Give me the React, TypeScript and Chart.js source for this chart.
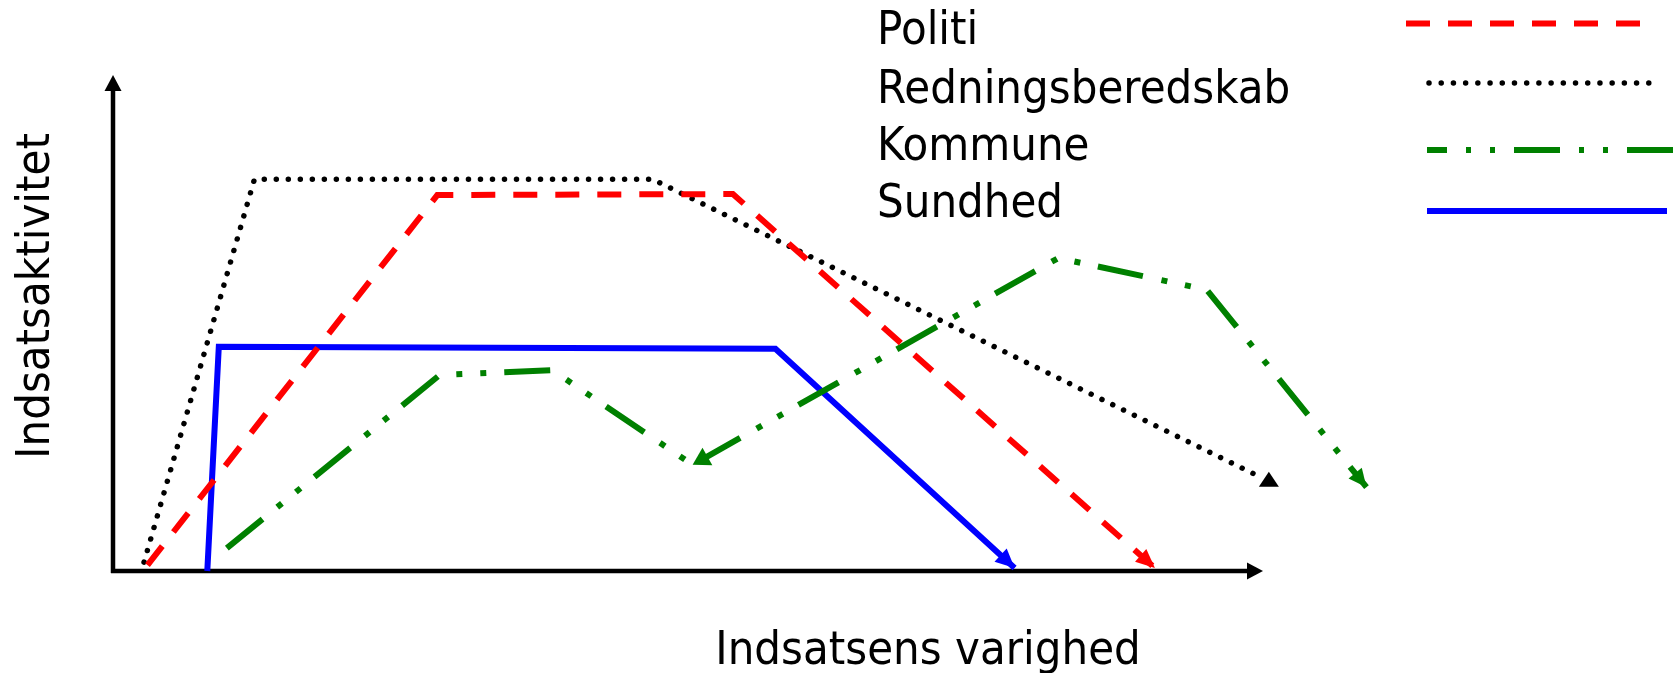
import React, { useEffect, useRef } from "react";
import { Chart, registerables } from "chart.js";

Chart.register(...registerables);

// ---- data (x: duration units 0..100 along axis, y: activity 0..100) ----
const seriesNames = ["Politi", "Redningsberedskab", "Kommune", "Sundhed"];
const seriesColors = ["#FF0000", "#000000", "#008000", "#0000FF"];

const politiX = [3.0, 28.2, 53.9, 90.6];
const politiY = [1.2, 75.8, 76.0, 0.6];

const redningX = [2.7, 12.3, 46.9, 99.9];
const redningY = [1.8, 79.0, 79.0, 18.8];

const kommuneX = [9.9, 28.4, 38.2, 50.4, 82.2, 95.1, 109.0];
const kommuneY = [4.6, 39.5, 40.5, 21.4, 63.1, 56.7, 16.9];

const sundhedX = [8.2, 9.2, 57.6, 78.4];
const sundhedY = [0, 45.2, 44.8, 0.6];

const xAxisTitle = "Indsatsens varighed";
const yAxisTitle = "Indsatsaktivitet";

const toPoints = (xs: number[], ys: number[]) => xs.map((x, i) => ({ x, y: ys[i] }));

const FONT = '46px "DejaVu Sans"';
const SQUEEZE = 0.915;

function drawText(ctx: CanvasRenderingContext2D, text: string, x: number, y: number, align: CanvasTextAlign, rotate = 0) {
  ctx.save();
  ctx.translate(x, y);
  if (rotate) ctx.rotate(rotate);
  ctx.scale(SQUEEZE, 1);
  ctx.font = FONT;
  ctx.fillStyle = "#000";
  ctx.textAlign = align;
  ctx.textBaseline = "alphabetic";
  ctx.fillText(text, 0, 0);
  ctx.restore();
}

function triangle(ctx: CanvasRenderingContext2D, tipX: number, tipY: number, fromX: number, fromY: number, len: number, half: number, color: string) {
  const dx = tipX - fromX;
  const dy = tipY - fromY;
  const d = Math.hypot(dx, dy) || 1;
  const ux = dx / d;
  const uy = dy / d;
  const bx = tipX - ux * len;
  const by = tipY - uy * len;
  ctx.save();
  ctx.fillStyle = color;
  ctx.beginPath();
  ctx.moveTo(tipX, tipY);
  ctx.lineTo(bx - uy * half, by + ux * half);
  ctx.lineTo(bx + uy * half, by - ux * half);
  ctx.closePath();
  ctx.fill();
  ctx.restore();
}

const axesPlugin = {
  id: "axesArrows",
  beforeDatasetsDraw(chart: any) {
    const ctx: CanvasRenderingContext2D = chart.ctx;
    const xs = chart.scales.x;
    const ys = chart.scales.y;
    const ox = xs.getPixelForValue(0);
    const oy = ys.getPixelForValue(0);
    const xt = xs.getPixelForValue(100);
    const yt = ys.getPixelForValue(100);
    ctx.save();
    ctx.strokeStyle = "#000";
    ctx.lineWidth = 4.5;
    ctx.lineCap = "butt";
    ctx.beginPath();
    ctx.moveTo(ox - 2, oy);
    ctx.lineTo(xt - 10, oy);
    ctx.moveTo(ox, oy + 2);
    ctx.lineTo(ox, yt + 10);
    ctx.stroke();
    ctx.restore();
    triangle(ctx, xt, oy, ox, oy, 16, 8.5, "#000");
    triangle(ctx, ox, yt, ox, oy, 16, 8.5, "#000");
  },
};

const arrowsPlugin = {
  id: "lineArrows",
  afterDatasetsDraw(chart: any) {
    const ctx: CanvasRenderingContext2D = chart.ctx;
    const pt = (ds: number, i: number) => chart.getDatasetMeta(ds).data[i];
    // Politi end
    {
      const n = politiX.length;
      const a = pt(0, n - 1), b = pt(0, n - 2);
      triangle(ctx, a.x, a.y, b.x, b.y, 19, 8.5, seriesColors[0]);
    }
    // Redningsberedskab end: upright triangle
    {
      const n = redningX.length;
      const a = pt(1, n - 1);
      ctx.save();
      ctx.fillStyle = seriesColors[1];
      ctx.beginPath();
      ctx.moveTo(a.x + 7, a.y - 6);
      ctx.lineTo(a.x + 17, a.y + 9);
      ctx.lineTo(a.x - 3, a.y + 9);
      ctx.closePath();
      ctx.fill();
      ctx.restore();
    }
    // Kommune: mid arrow and end arrow
    {
      const a = pt(2, 3), b = pt(2, 4);
      triangle(ctx, a.x, a.y, b.x, b.y, 17, 10, seriesColors[2]);
      const n = kommuneX.length;
      const c = pt(2, n - 1), d = pt(2, n - 2);
      triangle(ctx, c.x, c.y, d.x, d.y, 18, 8.5, seriesColors[2]);
    }
    // Sundhed end
    {
      const n = sundhedX.length;
      const a = pt(3, n - 1), b = pt(3, n - 2);
      triangle(ctx, a.x, a.y, b.x, b.y, 19, 9, seriesColors[3]);
    }
  },
};

const legendPlugin = {
  id: "customLegend",
  afterDraw(chart: any) {
    const ctx: CanvasRenderingContext2D = chart.ctx;
    const labelX = 877;
    const baselines = [44, 103, 160, 217];
    seriesNames.forEach((name, i) => drawText(ctx, name, labelX, baselines[i], "left"));

    const samples = [
      { x0: 1406, x1: 1641, y: 23.5, w: 6, dash: [24, 18], cap: "butt", off: 0 },
      { x0: 1429, x1: 1651, y: 83, w: 5.5, dash: [0.01, 12.2], cap: "round", off: 0 },
      { x0: 1427, x1: 1676, y: 150, w: 6, dash: [46, 19, 5, 19, 5, 19], cap: "butt", off: 26 },
      { x0: 1427, x1: 1667, y: 211, w: 6, dash: [], cap: "butt", off: 0 },
    ];
    samples.forEach((s, i) => {
      ctx.save();
      ctx.strokeStyle = seriesColors[i];
      ctx.lineWidth = s.w;
      ctx.lineCap = s.cap as CanvasLineCap;
      ctx.setLineDash(s.dash);
      ctx.lineDashOffset = s.off;
      ctx.beginPath();
      ctx.moveTo(s.x0, s.y);
      ctx.lineTo(s.x1, s.y);
      ctx.stroke();
      ctx.restore();
    });

    drawText(ctx, xAxisTitle, 928, 664, "center");
    drawText(ctx, yAxisTitle, 49, 296, "center", -Math.PI / 2);
  },
};

export default function App() {
  const ref = useRef<HTMLCanvasElement>(null);
  useEffect(() => {
    const canvas = ref.current;
    if (!canvas) return;
    const common = { showLine: true, pointRadius: 0, pointHoverRadius: 0, fill: false, tension: 0, clip: false as any };
    const chart = new Chart(canvas, {
      type: "scatter",
      data: {
        datasets: [
          {
            ...common,
            label: seriesNames[0],
            data: toPoints(politiX, politiY),
            borderColor: seriesColors[0],
            borderWidth: 6,
            borderDash: [24, 18],
            borderCapStyle: "butt",
            borderJoinStyle: "miter",
          },
          {
            ...common,
            label: seriesNames[1],
            data: toPoints(redningX, redningY),
            borderColor: seriesColors[1],
            borderWidth: 5.5,
            borderDash: [0.01, 12],
            borderCapStyle: "round",
            borderJoinStyle: "round",
          },
          {
            ...common,
            label: seriesNames[2],
            data: toPoints(kommuneX, kommuneY),
            borderColor: seriesColors[2],
            borderWidth: 6,
            borderDash: [46, 19, 6, 18, 6, 18],
            borderCapStyle: "butt",
            borderJoinStyle: "miter",
          },
          {
            ...common,
            label: seriesNames[3],
            data: toPoints(sundhedX, sundhedY),
            borderColor: seriesColors[3],
            borderWidth: 6,
            borderCapStyle: "butt",
            borderJoinStyle: "miter",
          },
        ],
      } as any,
      options: {
        responsive: false,
        animation: false,
        events: [],
        layout: { autoPadding: false, padding: { left: 113, top: 75, right: 183, bottom: 102 } },
        scales: {
          x: { type: "linear", display: false, min: 0, max: 120 },
          y: { type: "linear", display: false, min: 0, max: 100 },
        },
        plugins: {
          legend: { display: false },
          tooltip: { enabled: false },
          title: { display: false },
        },
      } as any,
      plugins: [axesPlugin, arrowsPlugin, legendPlugin],
    });
    return () => chart.destroy();
  }, []);

  return (
    <canvas
      ref={ref}
      width={1676}
      height={673}
      style={{ position: "fixed", left: 0, top: 0, width: 1676, height: 673 }}
    />
  );
}
